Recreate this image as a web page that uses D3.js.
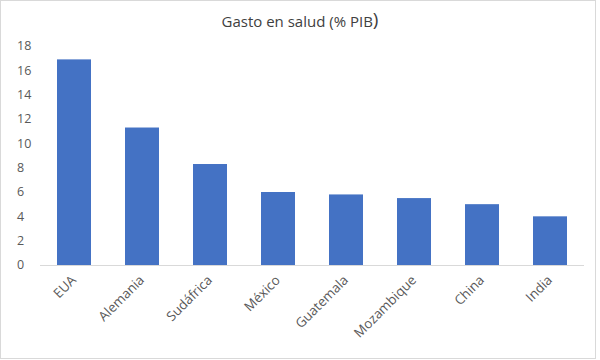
<!DOCTYPE html>
<html>
<head>
<meta charset="utf-8">
<script src="https://cdn.jsdelivr.net/npm/d3@7"></script>
<style>
  body { margin: 0; background: #fff; }
  svg { display: block; }
</style>
</head>
<body>
<div id="chart"></div>
<script>
// values
const countries = ["EUA", "Alemania", "Sudáfrica", "México", "Guatemala", "Mozambique", "China", "India"];
const gasto = [16.9, 11.3, 8.3, 6.0, 5.8, 5.5, 5.0, 4.0];
const yTicks = [0, 2, 4, 6, 8, 10, 12, 14, 16, 18];
const title = "Gasto en salud (% PIB";

const width = 600, height = 360;
const font = "'Open Sans', 'Noto Sans', sans-serif";
const textColor = "#595959";

const data = countries.map((c, i) => ({ country: c, value: gasto[i] }));

const svg = d3.select("#chart")
  .append("svg")
  .attr("width", width)
  .attr("height", height);

svg.append("rect")
  .attr("x", 0.5).attr("y", 0.5)
  .attr("width", 595).attr("height", 358)
  .attr("fill", "#fff")
  .attr("stroke", "#d9d9d9");

const x = d3.scaleBand()
  .domain(countries)
  .range([40, 584])
  .paddingInner(0.5)
  .paddingOuter(0.25);

const y = d3.scaleLinear()
  .domain([0, 18])
  .range([265, 46]);

// y axis labels (left aligned like the original)
svg.append("g")
  .selectAll("text")
  .data(yTicks)
  .join("text")
  .attr("x", 17)
  .attr("y", (d) => y(d))
  .attr("dy", "0.35em")
  .attr("font-family", font)
  .attr("font-size", 12.5)
  .attr("fill", textColor)
  .text((d) => d);

// bars
svg.append("g")
  .selectAll("rect")
  .data(data)
  .join("rect")
  .attr("x", (d) => x(d.country))
  .attr("y", (d) => y(d.value))
  .attr("width", x.bandwidth())
  .attr("height", (d) => y(0) - y(d.value))
  .attr("fill", "#4472c4");

// baseline
svg.append("line")
  .attr("x1", 40).attr("x2", 584)
  .attr("y1", y(0) + 0.5).attr("y2", y(0) + 0.5)
  .attr("stroke", "#d9d9d9")
  .attr("stroke-width", 1);

// category labels, rotated
svg.append("g")
  .selectAll("text")
  .data(countries)
  .join("text")
  .attr("transform", (d) => `translate(${x(d) + x.bandwidth() / 2 + 3},${281})rotate(-45)`)
  .attr("text-anchor", "end")
  .attr("font-family", font)
  .attr("font-size", 13.3)
  .attr("fill", textColor)
  .text((d) => d);

// title
const t = svg.append("text")
  .attr("x", 300)
  .attr("y", 27)
  .attr("text-anchor", "middle")
  .attr("font-family", font)
  .attr("font-size", 15)
  .attr("fill", "#404040")
  .text(title);
t.append("tspan")
  .attr("font-size", 19)
  .attr("dy", -1)
  .text(")");
</script>
</body>
</html>
